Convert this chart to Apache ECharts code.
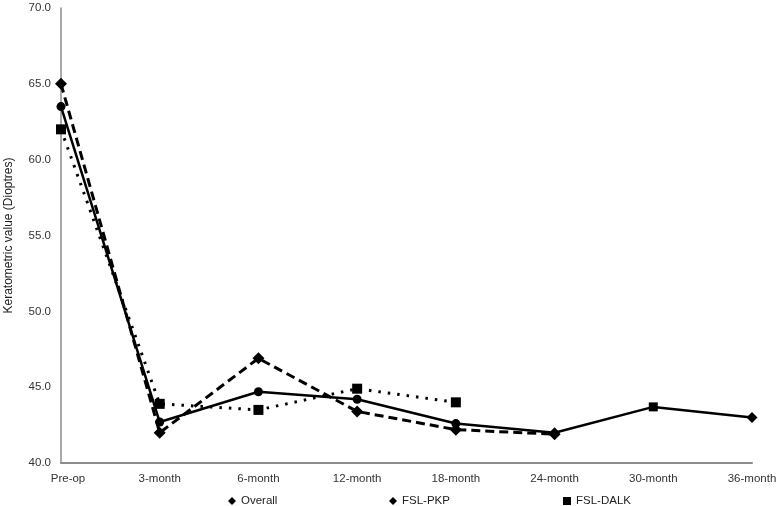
<!DOCTYPE html>
<html>
<head>
<meta charset="utf-8">
<script src="https://cdn.jsdelivr.net/npm/echarts@6/dist/echarts.min.js"></script>
<style>
html,body{margin:0;padding:0;background:#fff;}
#c{width:777px;height:506px;}
</style>
</head>
<body>
<div id="c"></div>
<script>
const categories = ['Pre-op','3-month','6-month','12-month','18-month','24-month','30-month','36-month'];
const overall = [63.5, 42.7, 44.7, 44.2, 42.6, 42.0, 43.7, 43.0];
const fslPkp  = [65.0, 42.0, 46.9, 43.4, 42.2, 41.9, null, null];
const fslDalk = [62.0, 43.9, 43.5, 44.9, 44.0, null, null, null];
const yTicks = [40, 45, 50, 55, 60, 65, 70];

const overallSymbols = ['circle','circle','circle','circle','circle','diamond','rect','diamond'];
const overallSizes   = [9, 9, 9, 9, 9, 11, 9, 11];

const chart = echarts.init(document.getElementById('c'));
const font = 'Liberation Sans, Arial, sans-serif';
const legendCommon = {
  top: 495, padding: 0, itemWidth: 8, itemHeight: 8, itemGap: 5,
  textStyle: {fontFamily: font, fontSize: 11.5, color: '#222'}
};
chart.setOption({
  animation: false,
  backgroundColor: '#fff',
  grid: {left: 61, right: 25, top: 8, bottom: 43, containLabel: false, outerBoundsMode: 'none'},
  legend: [
    Object.assign({left: 228, data: [{name: 'Overall', icon: 'diamond'}]}, legendCommon),
    Object.assign({left: 389, data: [{name: 'FSL-PKP', icon: 'diamond'}]}, legendCommon),
    Object.assign({left: 563, data: [{name: 'FSL-DALK', icon: 'rect'}]}, legendCommon)
  ],
  xAxis: {
    type: 'category',
    data: categories,
    boundaryGap: false,
    axisLine: {lineStyle: {color: '#8c8c8c', width: 2}},
    axisTick: {show: false},
    axisLabel: {fontFamily: font, fontSize: 11.5, color: '#333', margin: 10,
      formatter: (v, i) => i === 0 ? '{f|' + v + '}' : v,
      rich: {f: {fontFamily: font, fontSize: 11.5, color: '#333', padding: [0, 0, 0, 14]}}}
  },
  yAxis: {
    type: 'value',
    min: yTicks[0], max: yTicks[yTicks.length-1], interval: 5,
    name: 'Keratometric value (Dioptres)',
    nameLocation: 'middle', nameGap: 46, nameRotate: 90,
    nameTextStyle: {fontFamily: font, fontSize: 12, color: '#222'},
    axisLine: {show: true, lineStyle: {color: '#8c8c8c', width: 1.5}},
    axisTick: {show: false},
    splitLine: {show: false},
    axisLabel: {fontFamily: font, fontSize: 11.5, color: '#333', margin: 10,
      formatter: v => v.toFixed(1)}
  },
  series: [
    {
      name: 'Overall', type: 'line', z: 3,
      data: overall.map((v,i) => ({value: v, symbol: overallSymbols[i], symbolSize: overallSizes[i]})),
      symbol: 'circle', symbolSize: 9,
      lineStyle: {color: '#000', width: 2.5, type: 'solid'},
      itemStyle: {color: '#000'}
    },
    {
      name: 'FSL-PKP', type: 'line', z: 2,
      data: fslPkp,
      symbol: 'diamond', symbolSize: 12,
      lineStyle: {color: '#000', width: 3, type: [9, 5]},
      itemStyle: {color: '#000'}
    },
    {
      name: 'FSL-DALK', type: 'line', z: 2,
      data: fslDalk,
      symbol: 'rect', symbolSize: 10,
      lineStyle: {color: '#000', width: 3, type: [2.5, 7]},
      itemStyle: {color: '#000'}
    }
  ]
});
</script>
</body>
</html>
